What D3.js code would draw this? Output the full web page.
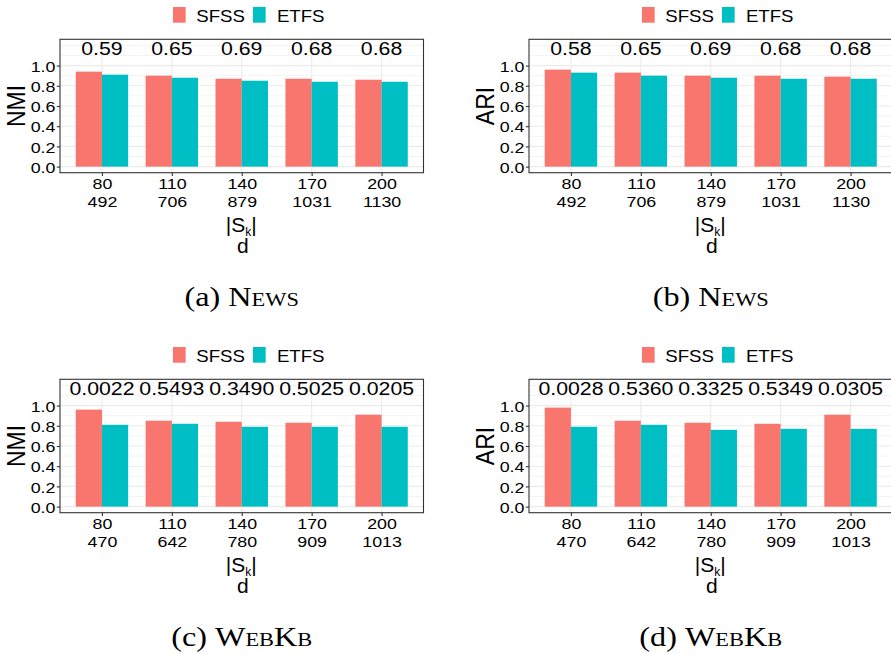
<!DOCTYPE html>
<html>
<head>
<meta charset="utf-8">
<script src="https://cdn.jsdelivr.net/npm/d3@7"></script>
<style>
  html, body { margin: 0; padding: 0; background: #fff; }
  svg { display: block; }
</style>
</head>
<body>
<svg id="fig" width="891" height="654"></svg>
<script>
// Category labels (|S_k|) and the matching feature counts d for each dataset
const sizes = ["80", "110", "140", "170", "200"];
const dNews = ["492", "706", "879", "1031", "1130"];
const dWebKb = ["470", "642", "780", "909", "1013"];
const methods = ["SFSS", "ETFS"];
const methodColors = ["#F8766D", "#00BFC4"];

// News
const newsNmiSFSS = [0.94, 0.90, 0.87, 0.87, 0.86];
const newsNmiETFS = [0.91, 0.88, 0.85, 0.84, 0.84];
const newsNmiP = ["0.59", "0.65", "0.69", "0.68", "0.68"];
const newsAriSFSS = [0.96, 0.93, 0.90, 0.90, 0.89];
const newsAriETFS = [0.93, 0.90, 0.88, 0.87, 0.87];
const newsAriP = ["0.58", "0.65", "0.69", "0.68", "0.68"];

// WebKb
const webkbNmiSFSS = [0.96, 0.85, 0.84, 0.83, 0.91];
const webkbNmiETFS = [0.81, 0.82, 0.79, 0.79, 0.79];
const webkbNmiP = ["0.0022", "0.5493", "0.3490", "0.5025", "0.0205"];
const webkbAriSFSS = [0.98, 0.85, 0.83, 0.82, 0.91];
const webkbAriETFS = [0.79, 0.81, 0.76, 0.77, 0.77];
const webkbAriP = ["0.0028", "0.5360", "0.3325", "0.5349", "0.0305"];

const yTicks = [0, 0.2, 0.4, 0.6, 0.8, 1.0];
const yMinor = [0.1, 0.3, 0.5, 0.7, 0.9, 1.1, 1.2];

const panels = [
  { metric: "NMI", sfss: newsNmiSFSS, etfs: newsNmiETFS, p: newsNmiP, d: dNews, tag: "(a)", name: "News", left: 60, top: 39.3 },
  { metric: "ARI", sfss: newsAriSFSS, etfs: newsAriETFS, p: newsAriP, d: dNews, tag: "(b)", name: "News", left: 529, top: 39.3 },
  { metric: "NMI", sfss: webkbNmiSFSS, etfs: webkbNmiETFS, p: webkbNmiP, d: dWebKb, tag: "(c)", name: "WebKb", left: 60, top: 379.3 },
  { metric: "ARI", sfss: webkbAriSFSS, etfs: webkbAriETFS, p: webkbAriP, d: dWebKb, tag: "(d)", name: "WebKb", left: 529, top: 379.3 }
];

const PW = 363.5, PH = 133.4;
const SX = 1.15; // glyphs in the figure are slightly wider than tall
const SANS = "'Liberation Sans', Arial, Helvetica, sans-serif";
const SERIF = "'Liberation Serif', 'Times New Roman', serif";
const svg = d3.select("#fig");

// text placed at (x, y) and widened horizontally
function label(parent, x, y, size, anchor, family, extra) {
  return parent.append("text")
    .attr("transform", `translate(${x},${y}) scale(${SX},1)${extra || ""}`)
    .attr("text-anchor", anchor).attr("fill", "#000")
    .style("font-family", family || SANS).style("font-size", size + "px");
}

panels.forEach(pn => {
  const g = svg.append("g");
  const x0 = pn.left, x1 = pn.left + PW;
  const y0 = pn.top + PH, y1 = pn.top;
  const cx = (x0 + x1) / 2;

  const x = d3.scalePoint().domain(sizes).range([x0, x1]).padding(0.6);
  const step = x.step();
  const xs = d3.scaleBand().domain(methods).range([-0.375 * step, 0.375 * step]);
  const y = d3.scaleLinear().domain([-0.06, 1.26]).range([y0, y1]);

  // panel background + grid
  g.append("rect").attr("x", x0).attr("y", y1).attr("width", PW).attr("height", PH).attr("fill", "#fff");
  g.selectAll(".minor").data(yMinor).join("line")
    .attr("x1", x0).attr("x2", x1).attr("y1", d => y(d)).attr("y2", d => y(d))
    .attr("stroke", "#EBEBEB").attr("stroke-width", 0.6);
  g.selectAll(".majory").data(yTicks).join("line")
    .attr("x1", x0).attr("x2", x1).attr("y1", d => y(d)).attr("y2", d => y(d))
    .attr("stroke", "#EBEBEB").attr("stroke-width", 1.1);
  g.selectAll(".majorx").data(sizes).join("line")
    .attr("x1", d => x(d)).attr("x2", d => x(d)).attr("y1", y0).attr("y2", y1)
    .attr("stroke", "#EBEBEB").attr("stroke-width", 1.1);

  // bars
  const rows = sizes.map((s, i) => ({ s, vals: [pn.sfss[i], pn.etfs[i]] }));
  const grp = g.selectAll(".grp").data(rows).join("g")
    .attr("transform", d => `translate(${x(d.s)},0)`);
  grp.selectAll("rect").data(d => d.vals.map((v, j) => ({ m: methods[j], v, c: methodColors[j] })))
    .join("rect")
    .attr("x", d => xs(d.m)).attr("width", xs.bandwidth())
    .attr("y", d => y(d.v)).attr("height", d => y(0) - y(d.v))
    .attr("fill", d => d.c);

  // p-value annotations
  sizes.forEach((s, i) => {
    label(g, x(s), y(1.1), 18.5, "middle").text(pn.p[i]);
  });

  // panel border
  g.append("rect").attr("x", x0).attr("y", y1).attr("width", PW).attr("height", PH)
    .attr("fill", "none").attr("stroke", "#333").attr("stroke-width", 1.1);

  // y axis
  const ya = g.append("g").attr("transform", `translate(${x0},0)`)
    .call(d3.axisLeft(y).tickValues(yTicks).tickFormat("").tickSize(3.2));
  ya.select(".domain").remove();
  ya.selectAll(".tick line").attr("stroke", "#333").attr("stroke-width", 1.1);
  ya.selectAll(".tick").each(function (d) {
    label(d3.select(this), -4.6, 5.6, 15.5, "end").text(d3.format(".1f")(d));
  });

  // x axis with two-line labels
  const xa = g.append("g").attr("transform", `translate(0,${y0})`)
    .call(d3.axisBottom(x).tickSize(3.2).tickFormat(""));
  xa.select(".domain").remove();
  xa.selectAll(".tick line").attr("stroke", "#333").attr("stroke-width", 1.1);
  xa.selectAll(".tick").each(function (d, i) {
    const t = label(d3.select(this), 0, 0, 15.5, "middle");
    t.append("tspan").attr("x", 0).attr("y", 16.3).text(d);
    t.append("tspan").attr("x", 0).attr("y", 34.8).text(pn.d[i]);
  });

  // x axis title: |S_k| stacked over d
  const xt = g.append("text").attr("text-anchor", "middle").attr("fill", "#000")
    .style("font-family", SANS).style("font-size", "21px");
  xt.append("tspan").attr("x", cx - 0.5).attr("y", y0 + 59.5).text("|S");
  xt.append("tspan").attr("dy", 4).style("font-size", "12px").text("k");
  xt.append("tspan").attr("dy", -4).text("|");
  xt.append("tspan").attr("x", cx + 1).attr("y", y0 + 80.5).text("d");

  // y axis title
  label(g, x0 - 35.5, (y0 + y1) / 2, 23, "middle", SANS, " rotate(-90)").text(pn.metric);

  // legend
  const lg = g.append("g").attr("transform", `translate(${cx},${pn.top - 39.3})`);
  const keyX = [-68.8, 11.2], txtX = [-45.5, 35.2];
  methods.forEach((m, j) => {
    lg.append("rect").attr("x", keyX[j]).attr("y", 7).attr("width", 12.7).attr("height", 15.7)
      .attr("fill", methodColors[j]);
    label(lg, txtX[j], 21.6, 16.2, "start").text(m);
  });

  // sub-figure caption
  const cap = label(g, cx, y0 + 133.5, 28, "middle", SERIF);
  cap.append("tspan").text(pn.tag + " ");
  cap.append("tspan").style("font-variant", "small-caps").text(pn.name);
});
</script>
</body>
</html>
